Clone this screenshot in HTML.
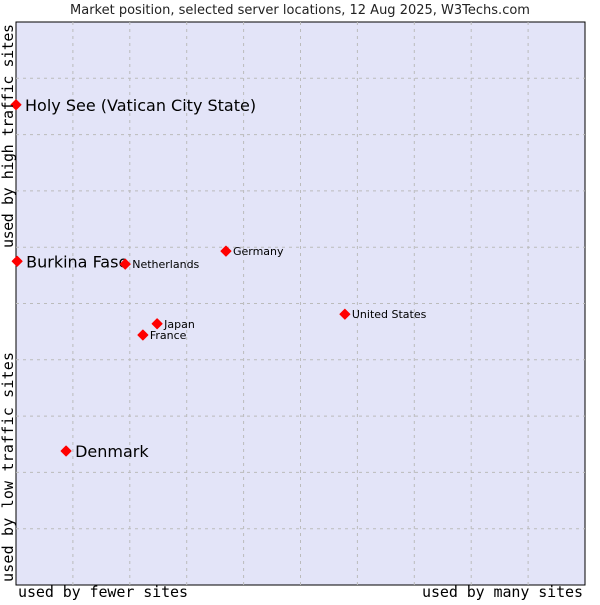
<!DOCTYPE html>
<html><head><meta charset="utf-8"><style>
body{margin:0;background:#fff;width:600px;height:600px;overflow:hidden}
svg text{font-family:"DejaVu Sans","Liberation Sans",sans-serif}
.m{font-family:"DejaVu Sans Mono","Liberation Mono",monospace}
</style></head><body>
<svg id="c" width="600" height="600">
<text x="300" y="14" text-anchor="middle" font-size="13" fill="#222">Market position, selected server locations, 12 Aug 2025, W3Techs.com</text>
<rect x="16" y="22" width="569" height="563" fill="#e3e4f8" stroke="#000" stroke-width="1"/>
<g id="grid"></g>
<g id="pts"></g>
<text class="m" x="18" y="597" font-size="15" textLength="170" fill="#000">used by fewer sites</text>
<text class="m" x="422" y="597" font-size="15" textLength="161" fill="#000">used by many sites</text>
<text class="m" transform="translate(13,582) rotate(-90)" font-size="15" textLength="230" fill="#000">used by low traffic sites</text>
<text class="m" transform="translate(13,248) rotate(-90)" font-size="15" textLength="224" fill="#000">used by high traffic sites</text>
</svg>
<script>
const names=["Holy See (Vatican City State)","Burkina Faso","Netherlands","Germany","United States","Japan","France","Denmark"];
const xVals=[0,0.2,19.2,36.9,57.8,24.8,22.3,8.8];
const yVals=[85.3,57.5,57.0,59.3,48.1,46.4,44.4,23.8];
const big=[true,true,false,false,false,false,false,true];
const L=16,R=585,T=22,B=585;
const sx=v=>L+v/100*(R-L), sy=v=>B-v/100*(B-T);
const ns="http://www.w3.org/2000/svg";
const g=document.getElementById('grid'), p=document.getElementById('pts');
for(let i=1;i<10;i++){
 const v=document.createElementNS(ns,'line');
 
 
 v.setAttribute('x1',sx(i*10));v.setAttribute('x2',sx(i*10));v.setAttribute('y1',T);v.setAttribute('y2',B);
 v.setAttribute('stroke','#bbb');v.setAttribute('stroke-dasharray','3,4');g.appendChild(v);
 const h=document.createElementNS(ns,'line');
 
 
 h.setAttribute('y1',sy(i*10));h.setAttribute('y2',sy(i*10));h.setAttribute('x1',L);h.setAttribute('x2',R);
 h.setAttribute('stroke','#bbb');h.setAttribute('stroke-dasharray','3,4');g.appendChild(h);
}
names.forEach((n,i)=>{
 const x=sx(xVals[i]),y=sy(yVals[i]);
 const d=document.createElementNS(ns,'path');
 
 
 d.setAttribute('d',`M${x-5},${y}L${x},${y-5}L${x+5},${y}L${x},${y+5}Z`);
 d.setAttribute('fill','#f00');d.setAttribute('stroke','#f00');d.setAttribute('stroke-width','1');d.setAttribute('stroke-linejoin','round');p.appendChild(d);
 const t=document.createElementNS(ns,'text');
 
 
 t.setAttribute('x',x+(big[i]?9:7));t.setAttribute('y',y+(big[i]?6:4));
 t.setAttribute('font-size',big[i]?'16':'11');t.setAttribute('fill','#000');
 t.textContent=n;p.appendChild(t);
});
</script>
</body></html>
